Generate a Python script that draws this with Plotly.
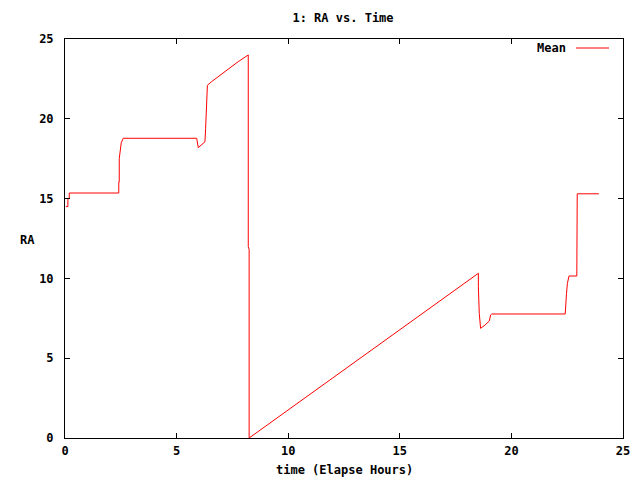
import plotly.graph_objects as go

# Elapsed time (hours) and mean RA values
time_hours = [0.04, 0.13, 0.13, 0.19, 0.19, 2.41, 2.41, 2.43, 2.43, 2.48, 2.52, 2.61,
              5.90, 5.97, 6.10, 6.27, 6.30, 6.35, 6.38, 6.57, 7.24, 7.76, 8.21,
              8.21, 8.25, 8.25, 18.52, 18.52, 18.56, 18.62, 18.82, 19.01, 19.07, 19.12,
              22.41, 22.42, 22.47, 22.51, 22.58, 22.93, 22.95, 23.92]
ra_mean = [14.5, 14.5, 15.0, 15.0, 15.35, 15.35, 16.05, 16.05, 17.5, 18.2, 18.5, 18.78,
           18.78, 18.19, 18.35, 18.56, 19.4, 21.2, 22.1, 22.33, 23.06, 23.58, 24.0,
           12.0, 11.8, 0.0, 10.32, 9.48, 7.81, 6.87, 7.08, 7.33, 7.71, 7.77,
           7.77, 8.23, 9.07, 9.69, 10.15, 10.15, 15.3, 15.3]

x_ticks = [0, 5, 10, 15, 20, 25]
y_ticks = [0, 5, 10, 15, 20, 25]

FONT = "DejaVu Sans Mono"
# page body has an 8px margin; figure is sized/offset so the plot lands where the reference has it
OFF = 8
W, H = 640 - OFF, 480 - OFF
PL, PT, PR, PB = 65 - OFF, 39 - OFF, 623 - OFF, 438 - OFF
PW, PH = PR - PL, PB - PT

fig = go.Figure()
fig.add_trace(go.Scatter(x=time_hours, y=ra_mean, mode="lines", name="Mean",
                         line=dict(color="#ff0000", width=1), showlegend=False))

axis_common = dict(showline=True, linecolor="black", linewidth=1, mirror="allticks",
                   ticks="inside", ticklen=5, tickcolor="black", showgrid=False,
                   zeroline=False, tickfont=dict(family=FONT, size=12, color="black"))

fig.update_layout(
    width=W, height=H,
    margin=dict(l=PL, r=W - PR, t=PT, b=H - PB, autoexpand=False),
    paper_bgcolor="white", plot_bgcolor="white",
    font=dict(family=FONT, size=12, color="black"),
    title=dict(text="<b>1: RA vs. Time</b>", x=(343 - OFF) / W, xanchor="center",
               y=1 - (18 - OFF) / H, yanchor="middle", yref="container",
               font=dict(family=FONT, size=12, color="black")),
    xaxis=dict(range=[0, 25], tickvals=x_ticks,
               ticktext=[f"<b>{v}</b>" for v in x_ticks], ticklabelstandoff=2,
               **axis_common),
    yaxis=dict(range=[0, 25], tickvals=y_ticks,
               ticktext=[f"<b>{v}</b>" for v in y_ticks], ticklabelstandoff=8,
               **axis_common),
)

fig.add_annotation(text="<b>time (Elapse Hours)</b>", xref="paper", yref="paper",
                   x=0.5, y=(438 - 470) / PH, xanchor="center", yanchor="middle",
                   showarrow=False, font=dict(family=FONT, size=12, color="black"))
fig.add_annotation(text="<b>RA</b>", xref="paper", yref="paper",
                   x=(27 - 65) / PW, y=(438 - 240) / PH, xanchor="center", yanchor="middle",
                   showarrow=False, font=dict(family=FONT, size=12, color="black"))
# Legend (gnuplot style: text then line sample)
fig.add_annotation(text="<b>Mean</b>", xref="paper", yref="paper",
                   x=(568 - 65) / PW, y=(438 - 48) / PH, xanchor="right", yanchor="middle",
                   showarrow=False, font=dict(family=FONT, size=12, color="black"))
fig.add_shape(type="line", xref="paper", yref="paper",
              x0=(576 - 65) / PW, x1=(609 - 65) / PW,
              y0=(438 - 48) / PH, y1=(438 - 48) / PH,
              line=dict(color="#ff0000", width=1))

fig.write_html("out.html")
